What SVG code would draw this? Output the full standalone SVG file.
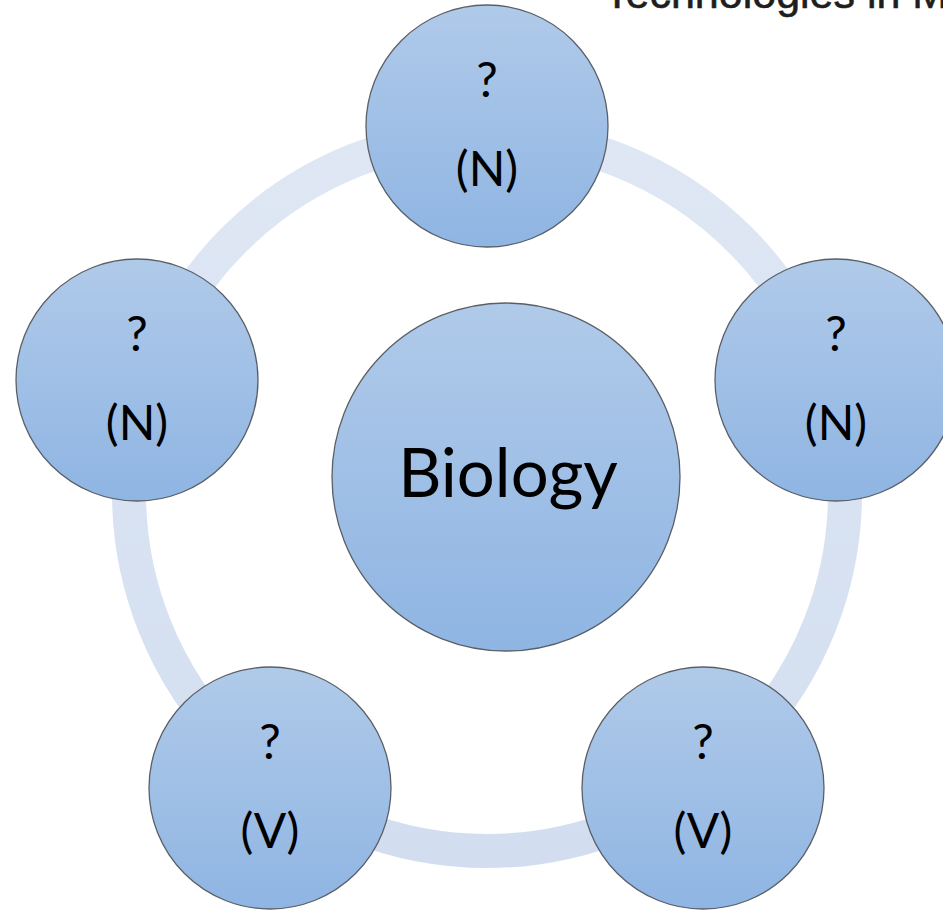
<svg xmlns="http://www.w3.org/2000/svg" width="943" height="910" viewBox="0 0 943 910">
  <defs>
    <linearGradient id="nodeFill" x1="0" y1="0" x2="0" y2="1">
      <stop offset="0" stop-color="#b0cae9"/>
      <stop offset="1" stop-color="#8fb5e3"/>
    </linearGradient>
    <linearGradient id="ringFill" x1="0" y1="0" x2="0" y2="1">
      <stop offset="0" stop-color="#dfe7f4"/>
      <stop offset="1" stop-color="#d2def0"/>
    </linearGradient>
  </defs>
  <style>
    .node { fill: url(#nodeFill); stroke: #5a5f66; stroke-width: 1.3; }
    .lbl { font-family: Lato, "Open Sans", "Liberation Sans", sans-serif; font-size: 48px; fill: #000; text-anchor: middle; }
    .big { font-size: 67px; }
    .ring { fill: none; stroke: url(#ringFill); stroke-width: 34; }
    .title { font-family: "Liberation Sans", Arial, sans-serif; font-size: 43px; fill: #1e1e1e; stroke: #1e1e1e; stroke-width: 0.6; }
  </style>
  <rect width="943" height="910" fill="#ffffff"/>
  <text class="title" x="604" y="8">Technologies in M</text>
  <g id="connectors">
    <circle class="ring" cx="487" cy="493" r="358"/>
  </g>
  <g id="node-center">
    <circle class="node" cx="506" cy="477" r="174"/>
    <text class="lbl big" x="508" y="497">Biology</text>
  </g>
  <g id="node-top">
    <circle class="node" cx="487" cy="126" r="121"/>
    <text class="lbl" x="487" y="97">?</text>
    <text class="lbl" x="487" y="186">(N)</text>
  </g>
  <g id="node-right">
    <circle class="node" cx="836" cy="380" r="121"/>
    <text class="lbl" x="836" y="351">?</text>
    <text class="lbl" x="836" y="440">(N)</text>
  </g>
  <g id="node-left">
    <circle class="node" cx="137" cy="380" r="121"/>
    <text class="lbl" x="137" y="351">?</text>
    <text class="lbl" x="137" y="440">(N)</text>
  </g>
  <g id="node-bottom-left">
    <circle class="node" cx="270" cy="788" r="121"/>
    <text class="lbl" x="270" y="759">?</text>
    <text class="lbl" x="270" y="848">(V)</text>
  </g>
  <g id="node-bottom-right">
    <circle class="node" cx="703" cy="788" r="121"/>
    <text class="lbl" x="703" y="759">?</text>
    <text class="lbl" x="703" y="848">(V)</text>
  </g>
</svg>
